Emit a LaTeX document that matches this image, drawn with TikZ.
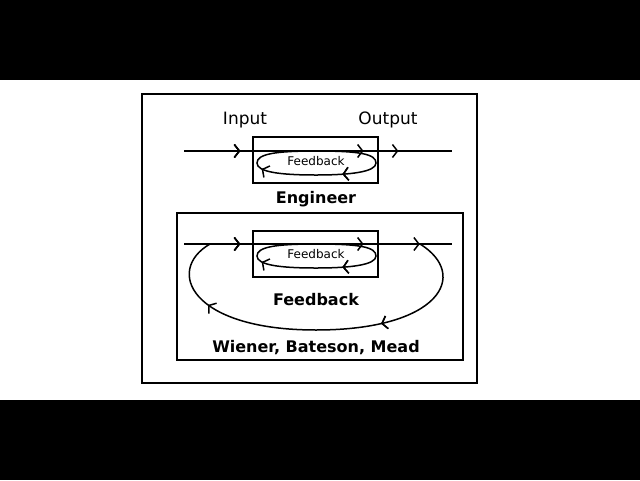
\documentclass[tikz,border=0pt]{standalone}
\usepackage{fontspec}
\setmainfont{DejaVu Sans}
\usetikzlibrary{arrows.meta,decorations.markings}
\begin{document}
\begin{tikzpicture}[x=1pt,y=-1pt]
\tikzset{ inner sep=0pt, outer sep=0pt,
  flow/.style={draw, line width=1.5pt},
  chev/.style={decoration={markings, mark=at position #1 with {\arrow[line width=1.5pt]{Straight Barb[length=5pt,width=13pt]}}}, postaction=decorate},
  box/.style={draw, line width=1.3pt},
  lbl/.style={font=\fontsize{17}{19}\selectfont},
  bl/.style={font=\bfseries\fontsize{16}{18}\selectfont},
  sm/.style={font=\fontsize{12}{14}\selectfont},
}
\useasboundingbox (0,0) rectangle (640,480);
\fill (0,0) rectangle (640,80);
\fill (0,400) rectangle (640,480);

\draw [line width=2.2pt] (142,94) rectangle (477,383);

% engineer
\node [lbl] (IN)  at (245,120) {Input};
\node [lbl] (OUT) at (388,120) {Output};
\draw [box] (253,137) rectangle (378,183);
\coordinate (A1) at (184,151);
\coordinate (B1) at (452,151);
\draw [flow, chev=0.21, postaction={chev=0.67}, postaction={chev=0.8}] (A1) -- (B1);
\draw [flow, chev=0.4, postaction={chev=0.72}] (316,151) .. controls (360,151) and (376,154) .. (376,163) .. controls (376,172) and (350,175) .. (316,175) .. controls (280,175) and (257,172) .. (257,163) .. controls (257,154) and (275,151) .. (316,151);
\node [sm] (FB1) at (316,161) {Feedback};
\node [bl] (ENG) at (316,199) {Engineer};

% wiener, bateson, mead
\draw [box] (177,213) rectangle (463,360);
\draw [box] (253,231) rectangle (378,277);
\coordinate (A2) at (184,244);
\coordinate (B2) at (452,244);
\draw [flow, chev=0.21, postaction={chev=0.67}, postaction={chev=0.88}] (A2) -- (B2);
\draw [flow, chev=0.4, postaction={chev=0.72}] (316,244) .. controls (360,244) and (376,247) .. (376,256) .. controls (376,265) and (350,268) .. (316,268) .. controls (280,268) and (257,265) .. (257,256) .. controls (257,247) and (275,244) .. (316,244);
\node [sm] (FB2) at (316,254) {Feedback};
\draw [flow, chev=0.33, postaction={chev=0.8}] (420,244) .. controls (470,275) and (440,330) .. (316,330) .. controls (190,330) and (165,270) .. (210,244);
\node [bl] (FB3) at (316,300) {Feedback};
\node [bl] (WBM) at (316,348) {Wiener, Bateson, Mead};
\end{tikzpicture}
\end{document}
